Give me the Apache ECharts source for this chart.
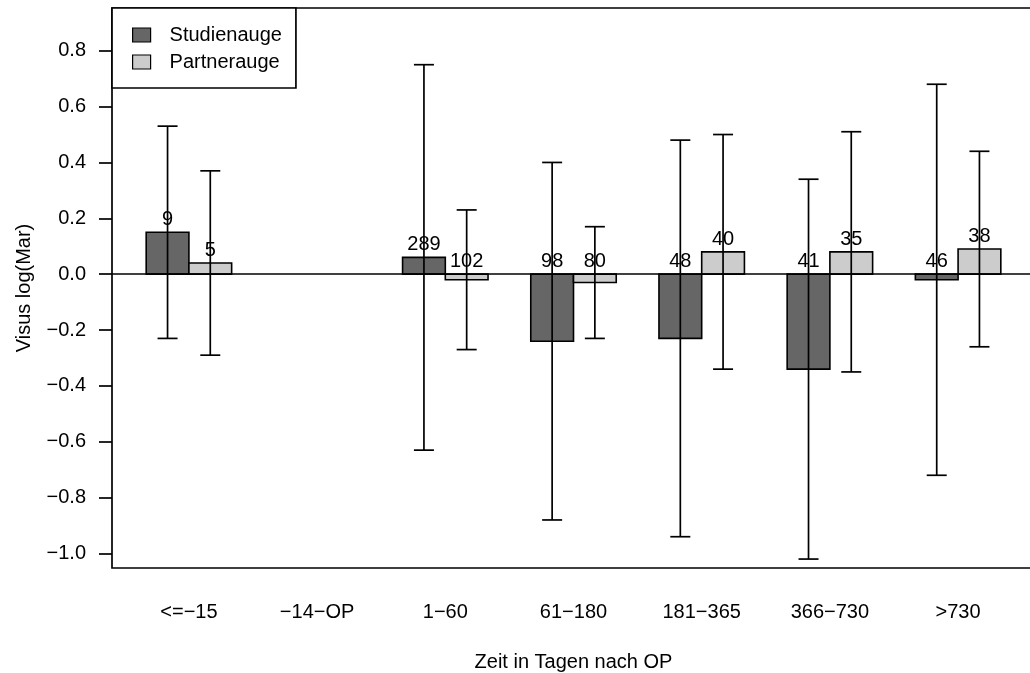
<!DOCTYPE html>
<html>
<head>
<meta charset="utf-8">
<script src="https://cdn.jsdelivr.net/npm/echarts@6/dist/echarts.min.js"></script>
<style>
  html, body { margin: 0; padding: 0; background: #fff; }
  #main { width: 1030px; height: 673px; }
</style>
</head>
<body>
<div id="main"></div>
<script>
// Zeitklassen (Tage nach OP)
var categories = ['<=−15', '−14−OP', '1−60', '61−180', '181−365', '366−730', '>730']

// Mittelwerte Visus log(Mar)
var studyMean = [0.15, null, 0.06, -0.24, -0.23, -0.34, -0.02]
var partnerMean = [0.04, null, -0.02, -0.03, 0.08, 0.08, 0.09]

// Fehlerbalken (unten / oben)
var studyLow = [-0.23, null, -0.63, -0.88, -0.94, -1.02, -0.72]
var studyHigh = [0.53, null, 0.75, 0.40, 0.48, 0.34, 0.68]
var partnerLow = [-0.29, null, -0.27, -0.23, -0.34, -0.35, -0.26]
var partnerHigh = [0.37, null, 0.23, 0.17, 0.50, 0.51, 0.44]

// Fallzahlen
var studyN = [9, null, 289, 98, 48, 41, 46]
var partnerN = [5, null, 102, 80, 40, 35, 38]

var yTicks = [-1.0, -0.8, -0.6, -0.4, -0.2, 0.0, 0.2, 0.4, 0.6, 0.8]

var FONT = '"Liberation Sans", Arial, Helvetica, sans-serif'

/** Position der Balkenmitte: Gruppe i, Balken j (0 = Studienauge, 1 = Partnerauge) */
function barX(i, j) {
  return 3 * i + 1.5 + j
}

function barData(means, j) {
  var out = []
  for (var i = 0; i < means.length; i++) {
    if (means[i] === null) continue
    out.push([barX(i, j), means[i]])
  }
  return out
}

function errData(low, high, j) {
  var out = []
  for (var i = 0; i < low.length; i++) {
    if (low[i] === null) continue
    out.push([barX(i, j), low[i], high[i]])
  }
  return out
}

function labelData(means, ns, j) {
  var out = []
  for (var i = 0; i < means.length; i++) {
    if (ns[i] === null) continue
    out.push([barX(i, j), Math.max(means[i], 0) + 0.045, ns[i]])
  }
  return out
}

function renderBar(color) {
  return function (params, api) {
    var x = api.value(0)
    var v = api.value(1)
    var p0 = api.coord([x - 0.5, 0])
    var p1 = api.coord([x + 0.5, v])
    return {
      type: 'rect',
      shape: {
        x: p0[0],
        y: Math.min(p0[1], p1[1]),
        width: p1[0] - p0[0],
        height: Math.abs(p1[1] - p0[1])
      },
      style: { fill: color, stroke: '#000', lineWidth: 1.6 }
    }
  }
}

function renderErr(params, api) {
  var x = api.value(0)
  var lo = api.coord([x, api.value(1)])
  var hi = api.coord([x, api.value(2)])
  var cap = 10
  var st = { stroke: '#000', lineWidth: 1.7 }
  return {
    type: 'group',
    children: [
      { type: 'line', shape: { x1: lo[0], y1: lo[1], x2: hi[0], y2: hi[1] }, style: st },
      { type: 'line', shape: { x1: lo[0] - cap, y1: lo[1], x2: lo[0] + cap, y2: lo[1] }, style: st },
      { type: 'line', shape: { x1: hi[0] - cap, y1: hi[1], x2: hi[0] + cap, y2: hi[1] }, style: st }
    ]
  }
}

function renderLabel(params, api) {
  var p = api.coord([api.value(0), api.value(1)])
  return {
    type: 'text',
    x: p[0],
    y: p[1],
    style: {
      text: String(api.value(2)),
      fill: '#000',
      font: '20px ' + FONT,
      align: 'center',
      verticalAlign: 'middle'
    }
  }
}

var chart = echarts.init(document.getElementById('main'), null, { renderer: 'canvas' })

var option = {
  animation: false,
  backgroundColor: '#fff',
  textStyle: { fontFamily: FONT, color: '#000' },
  grid: {
    show: true,
    left: 112,
    top: 8,
    width: 923,
    height: 560,
    outerBoundsMode: 'none',
    containLabel: false,
    borderColor: '#000',
    borderWidth: 1.7,
    backgroundColor: 'transparent'
  },
  legend: {
    left: 112,
    top: 8,
    orient: 'vertical',
    backgroundColor: '#fff',
    borderColor: '#000',
    borderWidth: 1.7,
    borderRadius: 0,
    padding: [17, 14, 16, 20],
    itemWidth: 18,
    itemHeight: 14,
    itemGap: 7,
    selectedMode: false,
    textStyle: { fontSize: 20, color: '#000', fontFamily: FONT, lineHeight: 20, padding: [0, 0, 0, 14] },
    data: [
      { name: 'Studienauge', icon: 'rect', itemStyle: { color: '#666666', borderColor: '#000', borderWidth: 1.2 } },
      { name: 'Partnerauge', icon: 'rect', itemStyle: { color: '#cccccc', borderColor: '#000', borderWidth: 1.2 } }
    ]
  },
  xAxis: {
    type: 'value',
    min: 0.2,
    max: 21.8,
    name: 'Zeit in Tagen nach OP',
    nameLocation: 'middle',
    nameGap: 84,
    nameTextStyle: { fontSize: 20, color: '#000', fontFamily: FONT },
    axisLine: { show: false },
    axisTick: { show: false },
    splitLine: { show: false },
    axisLabel: {
      customValues: [2, 5, 8, 11, 14, 17, 20],
      margin: 34,
      fontSize: 20,
      color: '#000',
      fontFamily: FONT,
      formatter: function (v) {
        return categories[Math.round((v - 2) / 3)]
      }
    }
  },
  yAxis: {
    type: 'value',
    min: -1.052,
    max: 0.953,
    name: 'Visus log(Mar)',
    nameLocation: 'middle',
    nameGap: 78,
    nameRotate: 90,
    nameTextStyle: { fontSize: 20, color: '#000', fontFamily: FONT },
    axisLine: { show: false },
    splitLine: { show: false },
    axisTick: {
      show: true,
      length: 13,
      customValues: yTicks,
      lineStyle: { color: '#000', width: 1.7 }
    },
    axisLabel: {
      customValues: yTicks,
      margin: 26,
      fontSize: 20,
      color: '#000',
      fontFamily: FONT,
      formatter: function (v) {
        return (v < -1e-9 ? '−' : '') + Math.abs(v).toFixed(1)
      }
    }
  },
  series: [
    {
      name: 'Studienauge',
      type: 'custom',
      renderItem: renderBar('#666666'),
      itemStyle: { color: '#666666', borderColor: '#000' },
      data: barData(studyMean, 0),
      z: 2
    },
    {
      name: 'Partnerauge',
      type: 'custom',
      renderItem: renderBar('#cccccc'),
      itemStyle: { color: '#cccccc', borderColor: '#000' },
      data: barData(partnerMean, 1),
      z: 2
    },
    {
      name: 'Fehler Studienauge',
      type: 'custom',
      renderItem: renderErr,
      data: errData(studyLow, studyHigh, 0),
      z: 3
    },
    {
      name: 'Fehler Partnerauge',
      type: 'custom',
      renderItem: renderErr,
      data: errData(partnerLow, partnerHigh, 1),
      z: 3,
      markLine: {
        silent: true,
        symbol: 'none',
        label: { show: false },
        lineStyle: { color: '#000', type: 'solid', width: 1.7 },
        data: [{ yAxis: 0 }]
      }
    },
    {
      name: 'n',
      type: 'custom',
      renderItem: renderLabel,
      data: labelData(studyMean, studyN, 0).concat(labelData(partnerMean, partnerN, 1)),
      z: 4
    }
  ]
}

chart.setOption(option)
</script>
</body>
</html>
